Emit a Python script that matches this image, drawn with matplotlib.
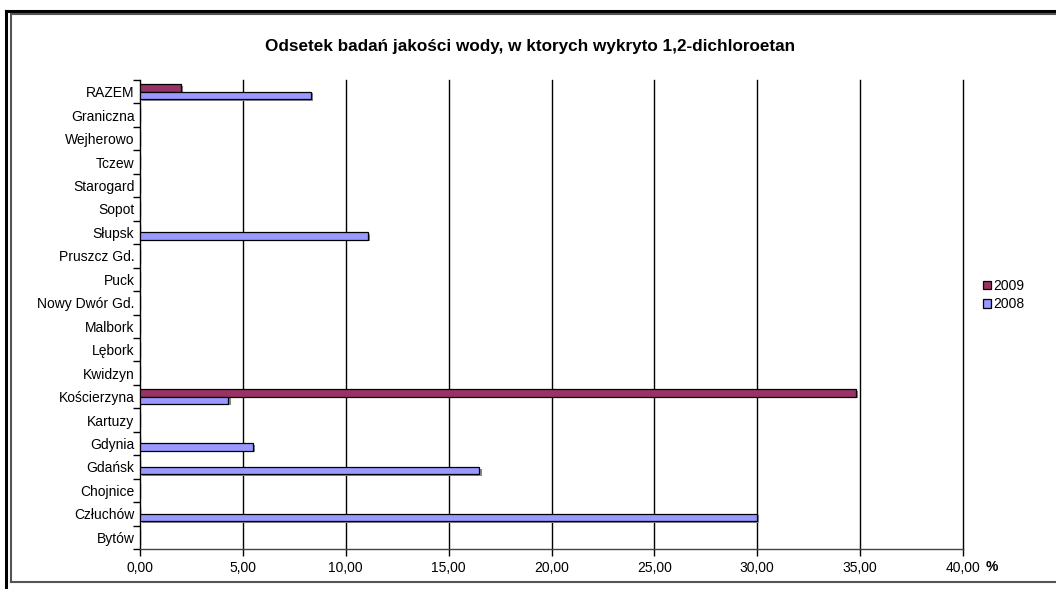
import matplotlib
matplotlib.use("Agg")
import matplotlib.pyplot as plt
import numpy as np
from matplotlib.lines import Line2D

plt.rcParams['font.family'] = ['Liberation Sans', 'DejaVu Sans']

categories = ["Bytów", "Człuchów", "Chojnice", "Gdańsk", "Gdynia", "Kartuzy",
              "Kościerzyna", "Kwidzyn", "Lębork", "Malbork", "Nowy Dwór Gd.",
              "Puck", "Pruszcz Gd.", "Słupsk", "Sopot", "Starogard", "Tczew",
              "Wejherowo", "Graniczna", "RAZEM"]
values_2008 = [0, 30.0, 0, 16.5, 5.5, 0, 4.3, 0, 0, 0, 0, 0, 0, 11.1, 0, 0, 0, 0, 0, 8.3]
values_2009 = [0, 0, 0, 0, 0, 0, 34.8, 0, 0, 0, 0, 0, 0, 0, 0, 0, 0, 0, 0, 2.0]
x_ticks = [0, 5, 10, 15, 20, 25, 30, 35, 40]
x_labels = ["0,00", "5,00", "10,00", "15,00", "20,00", "25,00", "30,00", "35,00", "40,00"]

color_2009 = "#993366"
color_2008 = "#9999FF"

W, H = 1056, 589
fig = plt.figure(figsize=(W / 100, H / 100), dpi=100)
fig.patch.set_facecolor("white")

# page frame
fig.add_artist(Line2D([6 / W, 6 / W], [0, 1 - 10.5 / H], transform=fig.transFigure, color="black", lw=2.2))
fig.add_artist(Line2D([6 / W, 1], [1 - 10.5 / H, 1 - 10.5 / H], transform=fig.transFigure, color="black", lw=2.2))
fig.add_artist(Line2D([11 / W, 11 / W], [1 - 582 / H, 1 - 14 / H], transform=fig.transFigure, color="#555555", lw=1.5))
fig.add_artist(Line2D([11 / W, 1], [1 - 14 / H, 1 - 14 / H], transform=fig.transFigure, color="#555555", lw=1.5))
fig.add_artist(Line2D([11 / W, 1], [1 - 582 / H, 1 - 582 / H], transform=fig.transFigure, color="#555555", lw=1.5))

left, right, top, bottom = 140, 963, 80, 549
ax = fig.add_axes([left / W, 1 - bottom / H, (right - left) / W, (bottom - top) / H])

FS = 10
y = np.arange(len(categories))
h = 0.31
# shadows (offset down-right)
ax.barh(y + h / 2 - 0.07, values_2009, height=h, left=0.1, color="#8a8a8a", edgecolor="none", zorder=2)
ax.barh(y - h / 2 - 0.07, values_2008, height=h, left=0.1, color="#8a8a8a", edgecolor="none", zorder=2)
b1 = ax.barh(y + h / 2, values_2009, height=h, color=color_2009, edgecolor="black", linewidth=0.9, zorder=3, label="2009")
b2 = ax.barh(y - h / 2, values_2008, height=h, color=color_2008, edgecolor="black", linewidth=0.9, zorder=3, label="2008")

ax.set_xlim(0, 40)
ax.set_ylim(-0.5, len(categories) - 0.5)
ax.set_xticks(x_ticks)
ax.set_xticklabels(x_labels, fontsize=FS)
ax.set_yticks(y)
ax.set_yticklabels(categories, fontsize=FS)
ax.tick_params(axis="y", which="major", length=0, pad=4)
ax.set_yticks(np.arange(-0.5, len(categories), 1), minor=True)
ax.tick_params(axis="y", which="minor", length=5, width=1, direction="out", color="black")
ax.tick_params(axis="x", which="major", length=5, width=1, direction="out", pad=4)

for xv in x_ticks[1:]:
    ax.axvline(xv, color="black", lw=1, zorder=1, clip_on=False)

for s in ["top", "right"]:
    ax.spines[s].set_visible(False)
ax.spines["left"].set_linewidth(1)
ax.spines["bottom"].set_linewidth(1)
ax.spines["bottom"].set_color("#444444")

fig.text(986 / W, 1 - 567 / H, "%", fontsize=FS, fontweight="bold", va="center", ha="left")

fig.text(530 / W, 1 - 47 / H, "Odsetek badań jakości wody, w ktorych wykryto 1,2-dichloroetan",
         ha="center", va="center", fontsize=12.3, fontweight="bold")

leg = ax.legend(handles=[b1, b2], labels=["2009", "2008"], loc="center left",
                bbox_to_anchor=(983 / W, 1 - 295 / H), bbox_transform=fig.transFigure,
                frameon=False, fontsize=FS, handlelength=0.6, handleheight=0.6,
                handletextpad=0.15, labelspacing=0.3, borderaxespad=0, borderpad=0)

fig.savefig("out.png", dpi=100, facecolor="white")
